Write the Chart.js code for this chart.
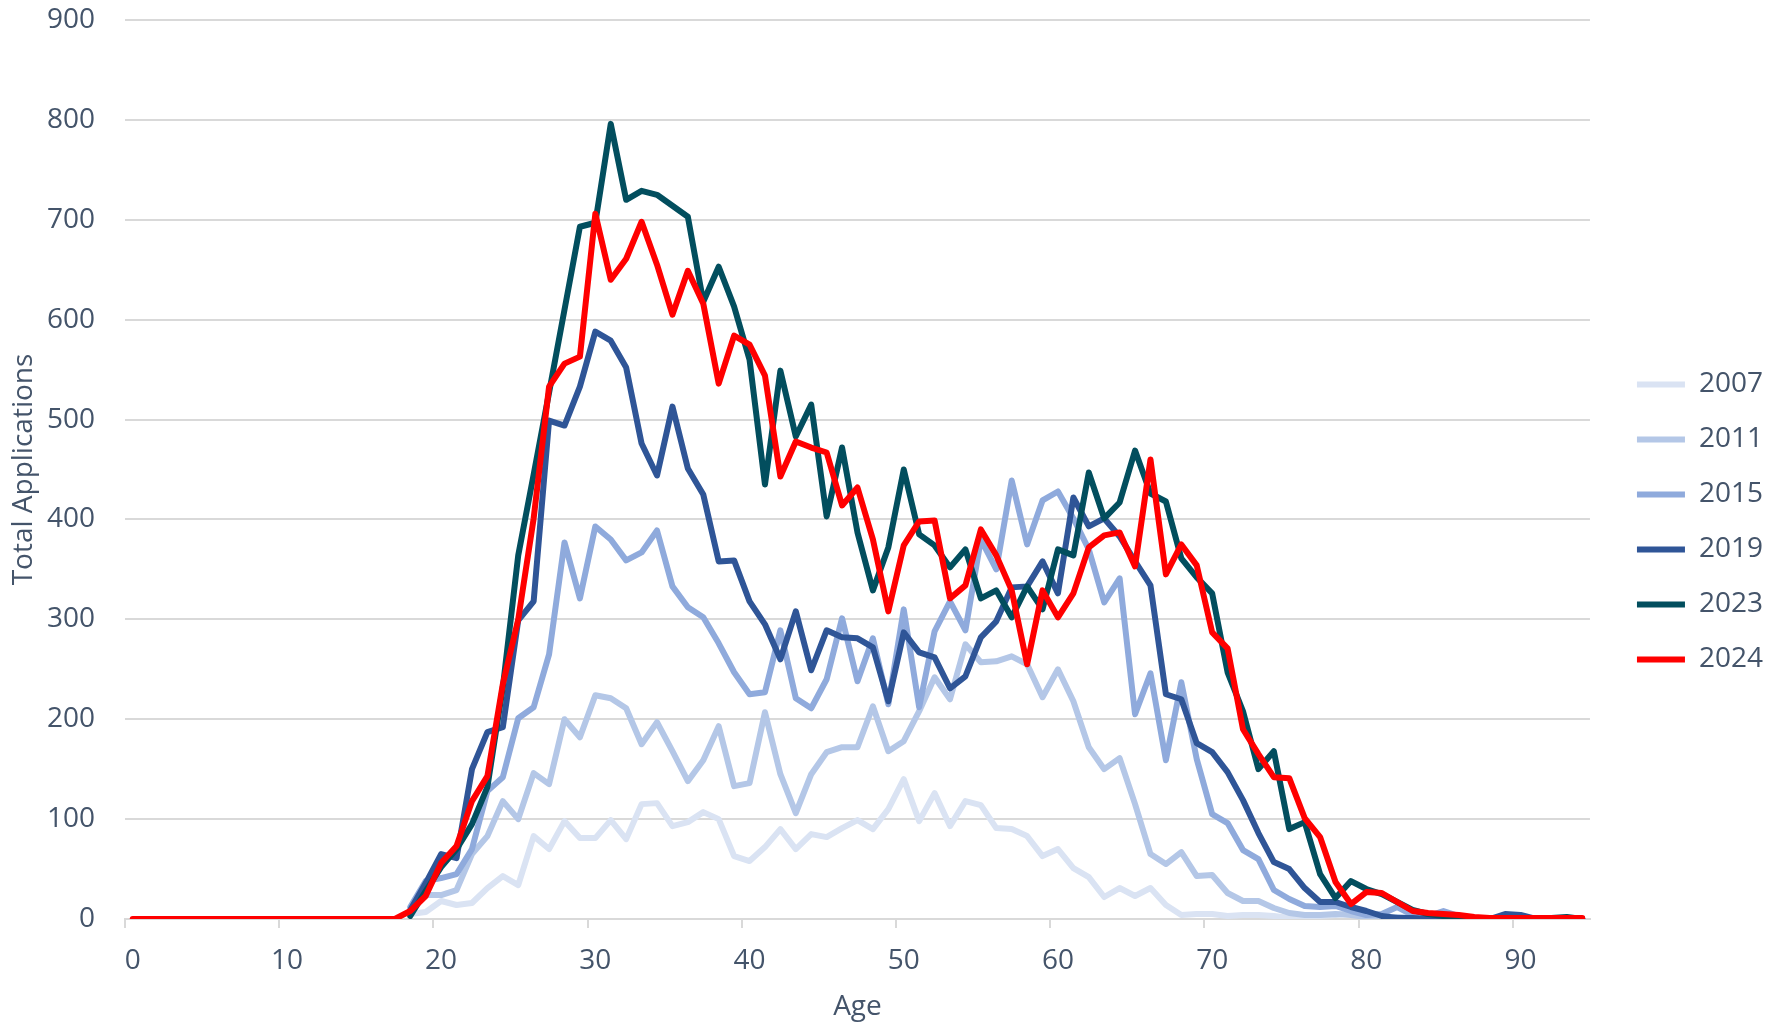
<!DOCTYPE html>
<html>
<head>
<meta charset="utf-8">
<title>Total Applications by Age</title>
<script src="https://cdn.jsdelivr.net/npm/chart.js@4.4.1/dist/chart.umd.min.js"></script>
<style>
  body { margin: 0; background: #fff; }
  #chart { display: block; }
</style>
</head>
<body>
<canvas id="chart" width="1779" height="1024"></canvas>
<script>

// ages on the x axis, 0 to 94
let ages = [];
for (let a = 0; a <= 94; a++) ages.push(a);

let years = ['2007', '2011', '2015', '2019', '2023', '2024'];
let colors = ['#DAE3F3', '#B4C7E7', '#8FAADC', '#2F5597', '#024E5E', '#FF0000'];

// older years have no rows below age 18
let before18 = Array(18).fill(null);

// applications per age, from age 18 to 94
let y2007 = [5, 7, 18, 14, 16, 31, 43, 34, 83, 70, 98, 81, 81, 99, 80, 115, 116, 93, 97, 107,
  100, 63, 58, 72, 90, 70, 85, 82, 91, 99, 90, 110, 140, 98, 126, 93, 118, 114, 91, 90,
  83, 63, 70, 51, 42, 22, 31, 23, 31, 14, 4, 5, 5, 3, 4, 4, 3, 1, 2, 3,
  4, 6, 2, 1, 0, 0, 0, 0, 0, 0, 0, 0, 0, 0, 0, 0, 0];
let y2011 = [8, 24, 24, 29, 65, 83, 118, 100, 146, 135, 200, 182, 224, 221, 211, 175, 197, 168, 138, 159,
  193, 133, 136, 207, 145, 106, 145, 167, 172, 172, 213, 168, 178, 208, 242, 220, 275, 257, 258, 263,
  255, 222, 250, 218, 172, 150, 161, 115, 65, 55, 67, 43, 44, 26, 18, 18, 11, 6, 4, 4,
  5, 4, 2, 1, 2, 1, 0, 0, 0, 0, 0, 0, 0, 0, 0, 0, 0];
let y2015 = [12, 38, 41, 45, 70, 128, 142, 201, 212, 265, 377, 321, 393, 380, 359, 367, 389, 333, 312, 302,
  276, 247, 225, 227, 289, 221, 211, 240, 301, 238, 281, 215, 310, 212, 288, 318, 289, 380, 350, 439,
  375, 419, 428, 401, 370, 317, 341, 205, 246, 159, 237, 160, 105, 96, 69, 60, 29, 20, 13, 12,
  13, 8, 4, 5, 12, 4, 3, 8, 3, 1, 0, 0, 0, 0, 0, 0, 0];
let y2019 = [9, 36, 65, 61, 150, 187, 192, 299, 318, 499, 494, 533, 588, 579, 552, 476, 444, 513, 451, 425,
  358, 359, 318, 295, 260, 308, 249, 289, 282, 281, 272, 218, 287, 267, 262, 231, 243, 282, 298, 332,
  333, 358, 326, 422, 393, 401, 383, 358, 334, 225, 220, 176, 167, 147, 119, 86, 57, 50, 31, 17,
  17, 12, 8, 3, 1, 1, 0, 0, 0, 0, 0, 5, 4, 0, 0, 0, 0];
let y2023 = [3, 28, 52, 70, 95, 132, 232, 364, 445, 527, 610, 693, 697, 796, 720, 729, 725, 714, 703, 618,
  653, 613, 560, 435, 549, 483, 515, 403, 472, 387, 329, 372, 450, 385, 374, 352, 370, 321, 329, 302,
  333, 310, 370, 364, 447, 401, 417, 469, 426, 418, 361, 342, 326, 247, 208, 150, 168, 90, 97, 45,
  21, 38, 30, 25, 17, 9, 5, 3, 2, 1, 1, 0, 0, 1, 1, 2, 0];

// 2024 runs from age 0
let y2024 = [0, 0, 0, 0, 0, 0, 0, 0, 0, 0, 0, 0, 0, 0, 0, 0, 0, 0,
  8, 23, 56, 73, 118, 143, 235, 300, 401, 533, 556, 563, 706, 640, 661, 698, 655, 605, 649, 616,
  536, 584, 575, 544, 443, 478, 472, 467, 414, 432, 380, 308, 374, 398, 399, 321, 334, 390, 364, 329,
  255, 329, 302, 326, 372, 384, 387, 353, 460, 345, 375, 354, 287, 271, 190, 165, 142, 141, 101, 82,
  37, 15, 27, 26, 17, 8, 6, 5, 4, 2, 1, 1, 1, 1, 1, 1, 1];

let textColor = '#44546A';
let gridColor = '#D9D9D9';

Chart.defaults.font.family = "'Open Sans', sans-serif";
Chart.defaults.color = textColor;

function drawChart() {
  let ctx = document.getElementById('chart').getContext('2d');
  let series = [
    before18.concat(y2007),
    before18.concat(y2011),
    before18.concat(y2015),
    before18.concat(y2019),
    before18.concat(y2023),
    y2024
  ];

  // newest year on top: lower order is drawn last
  let datasets = series.map((vals, i) => ({
    label: years[i],
    data: vals,
    borderColor: colors[i],
    backgroundColor: colors[i],
    borderWidth: 6,
    pointRadius: 0,
    pointHoverRadius: 0,
    tension: 0,
    fill: false,
    borderCapStyle: 'round',
    borderJoinStyle: 'round',
    order: series.length - 1 - i
  }));

  new Chart(ctx, {
    type: 'line',
    data: { labels: ages, datasets: datasets },
    options: {
      responsive: false,
      animation: false,
      layout: { padding: { top: 20, right: 6, bottom: 0, left: 0 } },
      plugins: {
        tooltip: { enabled: false },
        legend: {
          position: 'right',
          labels: {
            usePointStyle: true,
            pointStyle: 'line',
            pointStyleWidth: 48,
            padding: 27,
            color: textColor,
            font: { size: 28, lineHeight: 1 },
            sort: (a, b) => a.datasetIndex - b.datasetIndex
          }
        }
      },
      scales: {
        x: {
          offset: true,
          grid: {
            offset: true,
            drawOnChartArea: false,
            tickLength: 9,
            lineWidth: 2,
            color: (c) => (c.index % 10 === 0 ? gridColor : 'rgba(0,0,0,0)')
          },
          border: { color: gridColor, width: 2 },
          ticks: {
            autoSkip: false,
            maxRotation: 0,
            padding: 16,
            font: { size: 28 },
            callback: (v, i) => (i % 10 === 0 ? String(ages[i]) : '')
          },
          title: {
            display: true,
            text: 'Age',
            font: { size: 28 },
            padding: { top: 0, bottom: 0 }
          },
          afterFit: (s) => { s.height = 105; }
        },
        y: {
          min: 0,
          max: 900,
          ticks: { stepSize: 100, padding: 30, font: { size: 28 } },
          grid: { color: gridColor, lineWidth: 2, drawTicks: false },
          border: { display: false },
          title: {
            display: true,
            text: 'Total Applications',
            font: { size: 28 },
            padding: { top: 7, bottom: 0 }
          },
          // fixed axis width, and only half a label of room above 900
          afterFit: (s) => {
            s.width = 125;
            s.paddingTop = 17;
            s.paddingBottom = 17;
          }
        },
        // empty strip between plot and legend
        gap: {
          type: 'linear',
          position: 'right',
          display: true,
          grid: { display: false },
          border: { display: false },
          ticks: { display: false },
          afterFit: (s) => { s.width = 20; }
        }
      }
    }
  });
}

drawChart();
</script>
</body>
</html>
